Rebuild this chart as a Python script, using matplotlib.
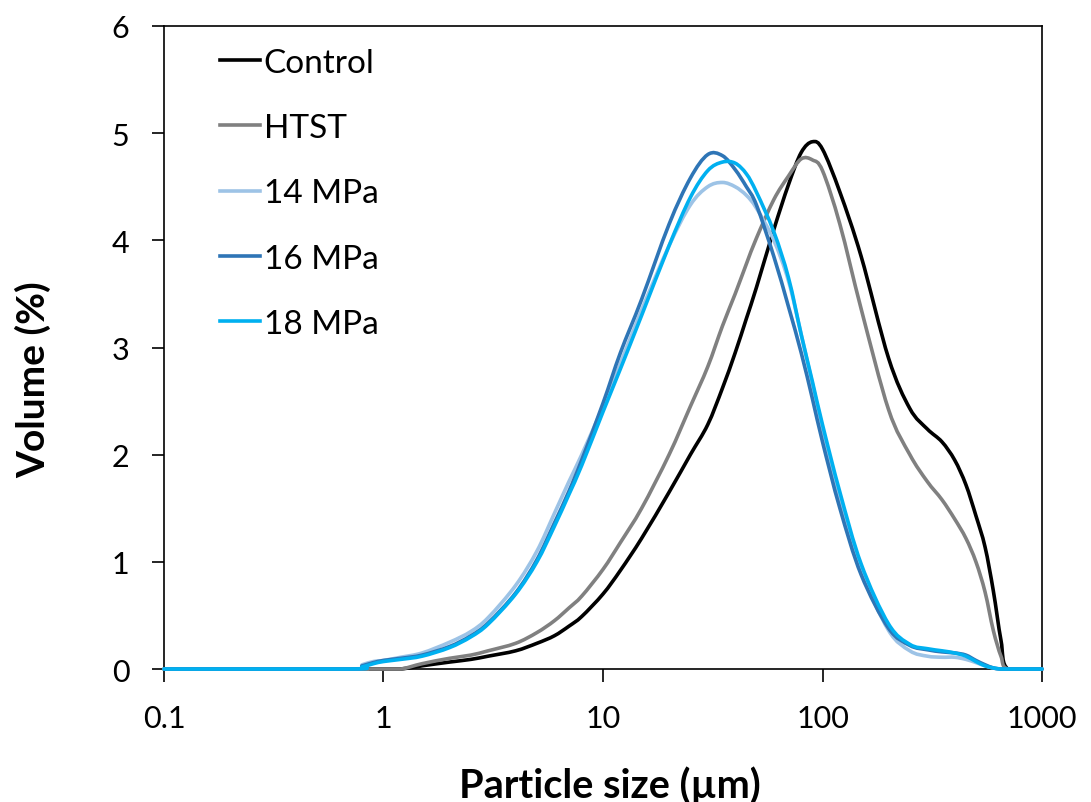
import matplotlib
matplotlib.use("Agg")
import matplotlib.pyplot as plt
import numpy as np
from matplotlib.path import Path
from matplotlib.patches import PathPatch

# particle size grid (um) and volume (%)
sizes = [0.1, 0.7, 0.8, 0.9, 1, 1.2, 1.5, 2, 2.5, 3, 4, 5, 6, 7, 8, 10, 12, 15, 20,
         25, 30, 35, 40, 45, 50, 60, 70, 80, 90, 100, 120, 150, 200, 250, 300,
         350, 400, 450, 500, 550, 600, 650, 700, 1000]

control = [0, 0, 0, 0, 0, 0, 0.03, 0.065, 0.09, 0.12, 0.17, 0.24, 0.31, 0.40, 0.49,
           0.70, 0.92, 1.22, 1.65, 2.00, 2.28, 2.62, 2.95, 3.27, 3.56, 4.10, 4.52,
           4.82, 4.92, 4.85, 4.45, 3.85, 2.90, 2.43, 2.24, 2.12, 1.95, 1.72, 1.43,
           1.14, 0.73, 0.27, 0, 0]

htst = [0, 0, 0, 0, 0, 0, 0.05, 0.10, 0.13, 0.17, 0.24, 0.34, 0.45, 0.57, 0.68,
        0.93, 1.18, 1.50, 2.00, 2.45, 2.82, 3.20, 3.50, 3.78, 4.02, 4.38, 4.60,
        4.76, 4.75, 4.65, 4.15, 3.36, 2.42, 2.00, 1.75, 1.58, 1.40, 1.22, 1.00,
        0.72, 0.36, 0.12, 0, 0]

mpa14 = [0, 0, 0.04, 0.07, 0.08, 0.11, 0.15, 0.25, 0.35, 0.48, 0.78, 1.10, 1.45,
         1.75, 2.00, 2.45, 2.85, 3.35, 3.95, 4.33, 4.50, 4.54, 4.50, 4.42, 4.30,
         4.00, 3.62, 3.12, 2.66, 2.25, 1.58, 0.92, 0.36, 0.17, 0.12, 0.11, 0.11,
         0.09, 0.06, 0.03, 0.01, 0, 0, 0]

mpa16 = [0, 0, 0.03, 0.06, 0.08, 0.10, 0.13, 0.21, 0.31, 0.43, 0.71, 1.02, 1.36,
         1.66, 1.95, 2.48, 2.95, 3.45, 4.15, 4.58, 4.80, 4.79, 4.66, 4.50, 4.33,
         3.85, 3.38, 2.95, 2.52, 2.12, 1.50, 0.88, 0.38, 0.22, 0.18, 0.16, 0.15,
         0.13, 0.08, 0.04, 0.01, 0, 0, 0]

mpa18 = [0, 0, 0.02, 0.05, 0.07, 0.09, 0.12, 0.20, 0.30, 0.42, 0.70, 1.00, 1.33,
         1.63, 1.90, 2.40, 2.80, 3.30, 3.95, 4.40, 4.65, 4.73, 4.72, 4.62, 4.45,
         4.08, 3.65, 3.12, 2.68, 2.28, 1.65, 0.98, 0.42, 0.23, 0.19, 0.17, 0.15,
         0.12, 0.07, 0.03, 0.01, 0, 0, 0]

series = [
    ("Control", control, "#000000"),
    ("HTST", htst, "#808080"),
    ("14 MPa", mpa14, "#9DC3E6"),
    ("16 MPa", mpa16, "#2E75B6"),
    ("18 MPa", mpa18, "#00B0F0"),
]


def smooth_path(xs, ys):
    # Excel-style smoothed line: cubic Bezier through every point,
    # built in log10(x) space because the x axis is logarithmic
    lx = np.log10(xs)
    y = np.asarray(ys, dtype=float)
    n = len(lx)
    verts = [(xs[0], y[0])]
    codes = [Path.MOVETO]
    for i in range(n - 1):
        i0, i2 = max(i - 1, 0), min(i + 2, n - 1)
        c1 = (lx[i] + (lx[i + 1] - lx[i0]) / 6, max(0, y[i] + (y[i + 1] - y[i0]) / 6))
        c2 = (lx[i + 1] - (lx[i2] - lx[i]) / 6, max(0, y[i + 1] - (y[i2] - y[i]) / 6))
        verts += [(10 ** c1[0], c1[1]), (10 ** c2[0], c2[1]), (xs[i + 1], y[i + 1])]
        codes += [Path.CURVE4] * 3
    return Path(verts, codes)


plt.rcParams["font.family"] = ["Lato", "DejaVu Sans"]

fig = plt.figure(figsize=(10.91, 8.03), dpi=100)
ax = fig.add_axes([0.1503, 0.1656, 0.8048, 0.8008])

ax.set_xscale("log")
ax.set_xlim(0.1, 1000)
ax.set_ylim(0, 6)

lw = 2.6
for name, vals, color in series:
    ax.add_patch(PathPatch(smooth_path(sizes, vals), facecolor="none",
                           edgecolor=color, lw=lw, capstyle="round",
                           joinstyle="round", clip_on=False, zorder=3))
    ax.plot([], [], color=color, lw=lw, label=name)

xt = [0.1, 1, 10, 100, 1000]
ax.set_xticks(xt)
ax.set_xticklabels(["0.1", "1", "10", "100", "1000"])
ax.minorticks_off()
ax.set_yticks(range(0, 7))

ax.tick_params(axis="both", direction="out", length=9, width=1.2, labelsize=22)
ax.tick_params(axis="x", pad=16)
ax.tick_params(axis="y", pad=16)
for s in ax.spines.values():
    s.set_linewidth(1.2)
    s.set_color("black")

ax.set_xlabel("Particle size (\u00b5m)", fontsize=28.5, fontweight="bold")
ax.set_ylabel("Volume (%)", fontsize=28, fontweight="bold")
ax.xaxis.set_label_coords(0.508, -0.150)
ax.yaxis.set_label_coords(-0.128, 0.451)

ax.legend(loc="upper left", bbox_to_anchor=(0.049, 0.987), frameon=False,
          fontsize=24, handlelength=1.2, handletextpad=0.1, labelspacing=1.06,
          borderaxespad=0)

fig.savefig("out.png", dpi=100)
